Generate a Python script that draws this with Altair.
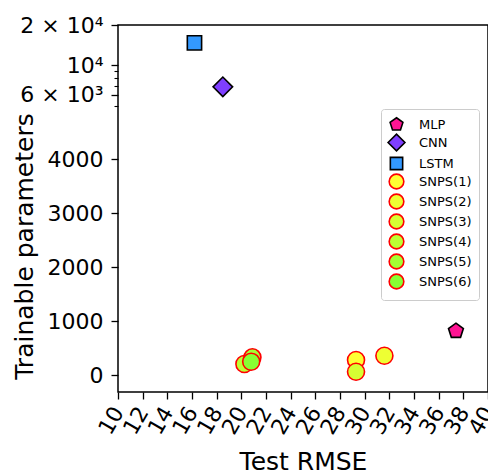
import math
import altair as alt
import pandas as pd

# ---- data ----
models = ["MLP", "CNN", "LSTM", "SNPS(1)", "SNPS(2)", "SNPS(3)", "SNPS(4)", "SNPS(5)", "SNPS(6)"]
rmse = [37.4, 18.5, 16.2, 29.3, 31.6, 29.3, 20.25, 20.9, 20.8]
params = [816, 6900, 14700, 278, 358, 61, 204, 328, 247]
fills = ["#FF1493", "#7F3FFF", "#3399FF", "#FFFF33", "#EEFF33", "#D6FF33",
         "#BDFF33", "#A3FF33", "#88FF33"]
strokes = ["black", "black", "black", "red", "red", "red", "red", "red", "red"]
pentagon = "M0,-0.92L0.875,-0.284L0.541,0.744L-0.541,0.744L-0.875,-0.284Z"
square = "M-0.84,-0.84H0.84V0.84H-0.84Z"
diamond = "M-1.15,0L0,-1.15L1.15,0L0,1.15Z"
shapes = [pentagon, diamond, square, "circle", "circle", "circle", "circle", "circle", "circle"]

x_ticks = list(range(10, 41, 2))
y_major = [0, 1000, 2000, 3000, 4000, 6000, 10000, 20000]
y_minor = [5000, 7000, 8000, 9000]

df = pd.DataFrame({"model": models, "rmse": rmse, "params": params})

# ---- plot geometry ----
W, H = 370, 367
Y0 = 350.0            # pixel of value 0 (from top)
LIN = 0.0539          # px per unit in linear part
BREAK = 5000
ybreak = Y0 - LIN * BREAK
DEC = ybreak / math.log10(20000 / BREAK)   # px per decade in log part
ymin = -(H - Y0) / LIN


def ypix(v):
    if v <= BREAK:
        return Y0 - LIN * v
    return ybreak - DEC * math.log10(v / BREAK)


dom = [ymin, BREAK] + list(range(5500, 10001, 500)) + list(range(11000, 20001, 1000))
rng = [ypix(v) for v in dom]
yscale = alt.Scale(domain=dom, range=rng, nice=False, zero=False)

label_expr = ("datum.value == 20000 ? '2 × 10⁴' : datum.value == 10000 ? '10⁴' : "
              "datum.value == 6000 ? '6 × 10³' : datum.label")

base = alt.Chart(df)

points = base.mark_point(filled=True, strokeWidth=1.6, opacity=1, size=289).encode(
    x=alt.X("rmse:Q", title="Test RMSE",
            scale=alt.Scale(domain=[10, 40], nice=False, zero=False),
            axis=alt.Axis(values=x_ticks, labelAngle=-60, labelAlign="right",
                          labelBaseline="middle", labelPadding=9, grid=False,
                          tickSize=7, tickWidth=1.3, domain=False, labelFontSize=22,
                          titleFontSize=25, titlePadding=12, labelFlush=False,
                          labelOverlap=False)),
    y=alt.Y("params:Q", title="Trainable parameters", scale=yscale,
            axis=alt.Axis(values=y_major, labelExpr=label_expr, format="d", grid=False,
                          tickSize=7, tickWidth=1.3, domain=False, labelFontSize=22,
                          labelPadding=8,
                          titleFontSize=25, titleX=-86, titleY=221, titleAngle=-90,
                          titleAlign="center", titleBaseline="alphabetic",
                          labelOverlap=False, labelFlush=False, orient="left")),
    fill=alt.Fill("model:N", sort=models, scale=alt.Scale(domain=models, range=fills),
                  legend=alt.Legend(title=None)),
    stroke=alt.Stroke("model:N", sort=models, scale=alt.Scale(domain=models, range=strokes),
                      legend=alt.Legend(title=None)),
    shape=alt.Shape("model:N", sort=models, scale=alt.Scale(domain=models, range=shapes),
                    legend=alt.Legend(title=None)),
    order=alt.Order("idx:Q"),
).transform_calculate(idx="indexof(" + str(models) + ", datum.model)")

minor_df = pd.DataFrame({"v": y_minor})
minor = alt.Chart(minor_df).mark_point(opacity=0).encode(
    y=alt.Y("v:Q", scale=yscale,
            axis=alt.Axis(values=y_minor, labels=False, tickSize=4, tickWidth=1.1,
                          domain=False, grid=False, title=None, orient="left")),
)

chart = alt.layer(points, minor).resolve_axis(y="independent").properties(
    width=W, height=H,
    autosize=alt.AutoSizeParams(type="none"),
    padding={"left": 110, "top": 17, "right": 0, "bottom": 80},
).configure(font="DejaVu Sans").configure_view(
    stroke="black", strokeWidth=1.5
).configure_axis(
    labelColor="black", titleColor="black", tickColor="black", labelFont="DejaVu Sans",
    titleFont="DejaVu Sans", titleFontWeight="normal"
).configure_legend(
    orient="none", legendX=263, legendY=84, padding=7, strokeColor="#cccccc",
    fillColor="white", cornerRadius=3, labelFontSize=13, labelFont="DejaVu Sans",
    labelColor="black", labelOffset=14, rowPadding=-4, symbolStrokeWidth=1.6,
    symbolOpacity=1, symbolSize=215
)

chart.save("out.html", embed_options={"renderer": "svg", "actions": False})
